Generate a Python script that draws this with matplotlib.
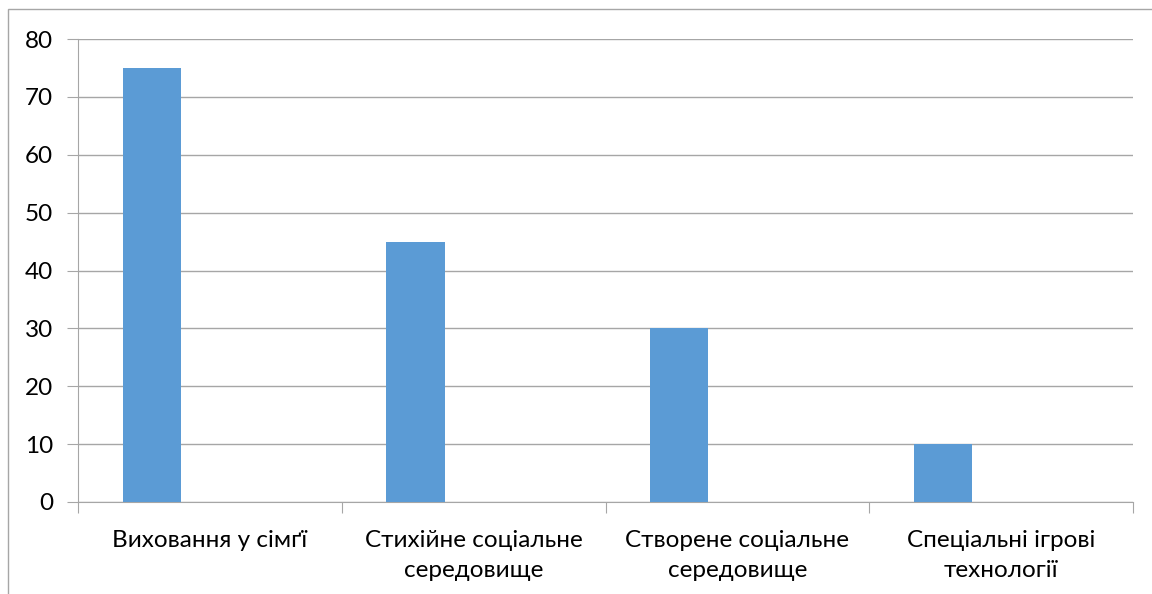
import matplotlib
matplotlib.use("Agg")
import matplotlib.pyplot as plt
from matplotlib.patches import Rectangle
import numpy as np

categories = ["Виховання у сімґї", "Стихійне соціальне\nсередовище",
              "Створене соціальне\nсередовище", "Спеціальні ігрові\nтехнології"]
values = [75, 45, 30, 10]
yticks = [0, 10, 20, 30, 40, 50, 60, 70, 80]

plt.rcParams['font.family'] = ['Lato', 'DejaVu Sans']

W, H = 1152, 594
fig = plt.figure(figsize=(W / 100, H / 100), dpi=100)
ax = fig.add_axes([78 / W, 1 - 502 / H, (1133 - 78) / W, (502 - 39) / H])

# outer chart-area border (left and top visible)
fig.patches.append(Rectangle((8 / W, -0.1), 1.2, 1 - 9 / H + 0.1, transform=fig.transFigure,
                             fill=False, edgecolor='#a6a6a6', linewidth=1.0))

n = len(categories)
bw = 58 / 263
x = np.arange(n) + 0.5
ax.bar(x - bw, values, width=bw, color='#5B9BD5', zorder=3)

ax.set_xlim(0, n)
ax.set_ylim(0, 80)
ax.set_yticks(yticks)
ax.set_yticklabels([str(t) for t in yticks])
ax.yaxis.grid(True, color='#a6a6a6', linewidth=1.0, zorder=0)
ax.set_axisbelow(True)

for s in ['top', 'right']:
    ax.spines[s].set_visible(False)
ax.spines['left'].set_color('#a6a6a6')
ax.spines['bottom'].set_color('#a6a6a6')

ax.set_xticks(np.arange(n + 1))
ax.set_xticklabels([''] * (n + 1))
ax.set_xticks(x, minor=True)
ax.set_xticklabels(categories, minor=True, fontsize=17.5, linespacing=1.55)
ax.tick_params(axis='x', which='minor', length=0, pad=20)
ax.tick_params(axis='x', which='major', length=8, color='#a6a6a6')
ax.tick_params(axis='y', length=8, color='#a6a6a6', labelsize=17.5, pad=10)

fig.savefig('out.png', dpi=100)
